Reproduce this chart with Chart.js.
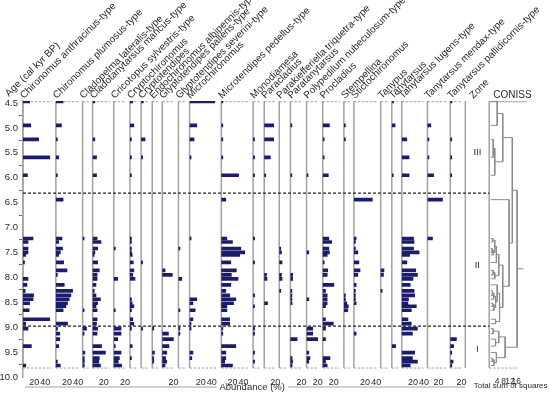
<!DOCTYPE html>
<html>
<head>
<meta charset="utf-8">
<script src="https://cdn.jsdelivr.net/npm/chart.js@4.4.1/dist/chart.umd.min.js"></script>
<style>
  html, body { margin: 0; padding: 0; background: #fff; }
  #wrap { width: 550px; height: 394px; }
</style>
</head>
<body>
<div id="wrap"><canvas id="chart" width="550" height="394"></canvas></div>
<script>
const FONT = "'Liberation Sans', Arial, sans-serif";

// sample ages (cal kyr BP)
const ages = [4.47, 4.95, 5.23, 5.59, 5.95, 6.44, 7.22, 7.29, 7.42, 7.50, 7.55, 7.70, 7.86, 7.95, 8.03, 8.15,
              8.27, 8.36, 8.44, 8.52, 8.58, 8.66, 8.84, 8.93, 9.03, 9.13, 9.24, 9.38, 9.51, 9.62, 9.69, 9.77];

// abundances (%) per taxon, one value per sample
const chironomusAnthracinus = [12,14,28,48,8,0,18,9,9,9,5,2,0,0,9,7,4,19,18,12,0,11,48,5,9,0,0,15,0,0,0,5];
const chironomusPlumosus    = [13,10,1,5,2,13,11,5,12,8,5,14,20,2,0,15,30,27,24,21,18,13,0,21,3,7,7,5,0,0,2,8];
const cladopelmaLateralis   = [0,0,0,0,0,0,2,0,0,0,0,0,0,0,0,0,0,0,0,0,0,2,0,0,7,2,0,0,4,3,3,3];
const cladotanytarsusMancus = [4,0,4,7,7,0,8,15,9,4,2,9,12,8,8,6,3,6,14,9,6,8,8,7,9,8,0,16,23,12,11,14];
const cricotopusSylvestris  = [0,0,0,0,0,0,0,0,1,0,0,0,0,0,7,0,0,0,0,0,0,1,0,0,13,13,7,1,13,10,8,14];
const cryptochironomus      = [5,7,1,1,1,0,2,2,2,2,4,6,7,5,9,0,0,0,1,4,7,1,5,7,1,0,0,4,0,1,0,0];
const cryptotendipes        = [4,0,7,2,0,0,0,0,0,0,0,2,0,0,0,0,0,0,0,0,0,0,0,0,1,0,0,0,0,0,0,0];
const endochironomusAlbip   = [0,0,0,0,0,0,0,0,0,0,0,0,0,0,0,0,0,0,0,0,0,0,0,0,1,0,0,0,4,1,1,0];
const glyptotendipesPallens = [0,0,0,0,0,0,0,0,0,0,0,0,5,18,0,0,0,0,0,0,0,0,0,0,0,11,20,12,8,6,8,5];
const glyptotendipesSeverini= [0,0,0,0,0,0,0,0,1,0,0,0,0,0,6,0,0,0,0,0,0,1,0,0,1,2,0,0,0,0,0,0];
const microchironomus       = [45,13,8,2,0,0,1,0,0,0,0,0,0,0,0,0,0,0,13,6,0,10,6,1,1,0,0,0,6,4,0,0];
const microtendipesPedellus = [2,1,1,1,31,8,10,20,35,42,33,17,27,18,30,17,8,15,26,22,10,10,15,15,2,1,0,26,8,8,6,20];
const monodiamesa           = [0,0,1,1,1,0,1,0,0,0,0,1,0,0,0,0,0,1,0,0,1,0,0,0,1,1,0,0,1,0,1,0];
const paracladius           = [0,17,17,11,1,0,0,0,0,0,0,0,0,4,5,0,0,0,0,6,0,0,0,0,0,0,0,0,0,0,0,0];
const parakiefferiella      = [0,0,0,0,0,0,0,0,1,4,0,5,0,4,5,0,2,0,0,0,0,0,0,0,0,0,0,0,0,0,0,0];
const paratanytarsus        = [0,1,0,0,1,0,0,0,0,0,0,0,0,4,4,0,2,2,2,3,0,0,0,0,0,0,12,0,0,3,4,3];
const polypedilum           = [0,0,0,0,1,0,0,0,0,4,0,0,0,0,0,0,0,0,4,0,0,0,0,0,11,11,20,0,4,6,4,0];
const procladius            = [0,12,1,1,10,0,11,16,11,12,8,1,9,8,0,20,5,8,8,8,5,0,5,19,5,0,5,0,0,13,5,8];
const stempellina           = [0,1,1,0,0,0,0,0,0,0,0,0,0,0,0,0,0,1,1,5,8,7,0,0,0,0,0,0,0,0,0,0];
const stictochironomus      = [0,0,0,0,0,33,4,2,1,7,0,9,11,7,0,4,1,1,1,4,0,0,0,0,0,4,0,0,0,0,0,0];
const tanypus               = [0,0,0,0,0,0,0,0,0,0,0,0,6,5,0,0,1,0,0,0,0,0,0,0,0,0,0,0,0,0,0,0];
const tanytarsus            = [3,6,0,0,1,0,0,0,0,0,0,0,0,0,0,0,0,0,0,0,0,0,0,0,0,0,0,7,0,0,0,0];
const tanytarsusLugens      = [0,0,9,13,13,0,21,22,21,31,14,9,25,28,20,15,22,23,12,11,26,17,11,17,28,19,0,0,23,19,28,15];
const tanytarsusMendax      = [0,6,1,1,11,27,9,0,0,0,0,0,0,0,0,0,0,0,0,0,0,0,0,0,0,0,0,0,0,0,0,0];
const tanytarsusPallidic    = [3,0,1,1,1,0,0,0,0,0,0,0,0,0,0,0,0,0,0,0,0,0,0,0,0,0,11,6,1,0,5,1];

const taxa = [
  'Chironomus anthracinus-type', 'Chironomus plumosus-type', 'Cladopelma lateralis-type',
  'Cladotanytarsus mancus-type', 'Cricotopus sylvestris-type', 'Cryptochironomus', 'Cryptotendipes',
  'Endochironomus albipennis-type', 'Glyptotendipes pallens-type', 'Glyptotendipes severini-type',
  'Microchironomus', 'Microtendipes pedellus-type', 'Monodiamesa', 'Paracladius',
  'Parakiefferiella triquetra-type', 'Paratanytarsus', 'Polypedilum nubeculosum-type', 'Procladius',
  'Stempellina', 'Stictochironomus', 'Tanypus', 'Tanytarsus', 'Tanytarsus lugens-type',
  'Tanytarsus mendax-type', 'Tanytarsus pallidicornis-type'
];
const values = [
  chironomusAnthracinus, chironomusPlumosus, cladopelmaLateralis, cladotanytarsusMancus,
  cricotopusSylvestris, cryptochironomus, cryptotendipes, endochironomusAlbip, glyptotendipesPallens,
  glyptotendipesSeverini, microchironomus, microtendipesPedellus, monodiamesa, paracladius,
  parakiefferiella, paratanytarsus, polypedilum, procladius, stempellina, stictochironomus,
  tanypus, tanytarsus, tanytarsusLugens, tanytarsusMendax, tanytarsusPallidic
];
// axis range of each panel (%), and its tick labels
const axisMax = [59,48,18,38,29,20,20,18,29,20,57,57,20,27,20,29,29,38,18,48,20,18,46,41,27];
const tickLabels = [[20,40],[20,40],[],[20],[20],[],[],[],[20],[],[20,40],[20,40],[],[20],[],[20],[20],[20],[],[20,40],[],[],[20,40],[20],[20]];
const ageTicks = [4.5,5.0,5.5,6.0,6.5,7.0,7.5,8.0,8.5,9.0,9.5,10.0];

// zones
const zoneNames = ['III', 'II', 'I'];
const zoneMidAges = [5.5, 7.75, 9.45];
const zoneBounds = [6.31, 8.98];

// CONISS linkage: node ids >= ages.length refer to earlier merges
const mergeA = [2,32,0,34,8,36,6,38,39,12,41,40,16,44,19,46,45,15,22,49,43,5,35,24,26,55,29,58,28,57,54];
const mergeB = [3,4,1,33,9,10,7,37,11,13,14,42,17,18,20,21,47,48,23,50,51,52,53,25,27,56,30,31,59,60,61];
const mergeHeight = [1.5,2.5,4,7.5,0.8,1.5,1.2,2.5,3.5,1.5,2.5,5,1,1.8,1.2,2,3,4,3,5.5,7.5,11.5,13.5,1.5,3,5,1,2,3.5,9,16.5];
const conissTicks = [4, 8, 12, 16];

const PX_PER_PCT = 0.56;
const TOP_AGE = 4.46, BASE_AGE = 9.82;
const BAR = '#1b1c6c', GREY = '#a2a2a2', TXT = '#2a2a2a';

function conissPoints() {
  const pos = ages.map(a => ({ x: 0, y: a }));
  const pts = [];
  mergeA.forEach((a, k) => {
    const pa = pos[a], pb = pos[mergeB[k]], h = mergeHeight[k];
    pts.push({ x: pa.x, y: pa.y }, { x: h, y: pa.y }, { x: h, y: pb.y }, { x: pb.x, y: pb.y }, { x: null, y: pb.y });
    pos.push({ x: h, y: (pa.y + pb.y) / 2 });
  });
  const root = pos[pos.length - 1];
  pts.push({ x: root.x, y: root.y }, { x: root.x + 4, y: root.y });
  return pts;
}

const tickFont = { family: FONT, size: 9 };

const scales = {
  y: {
    type: 'linear', position: 'left', reverse: true, min: TOP_AGE, max: 10.0, offset: false,
    afterBuildTicks: ax => { ax.ticks = ageTicks.map(v => ({ value: v })); },
    afterFit: ax => { ax.width = 23; },
    ticks: { callback: v => v.toFixed(1), font: { family: FONT, size: 9.5 }, color: TXT, padding: 1, autoSkip: false },
    grid: { drawOnChartArea: false, tickLength: 4, color: '#666' },
    border: { color: GREY, width: 1.5 }
  }
};
taxa.forEach((name, i) => {
  scales['x' + i] = {
    type: 'linear', position: 'bottom', stack: 'panels', stackWeight: axisMax[i] * PX_PER_PCT,
    min: 0, max: axisMax[i], offset: false,
    grid: { display: false }, border: { display: false },
    afterBuildTicks: ax => { ax.ticks = tickLabels[i].map(v => ({ value: v })); },
    afterFit: ax => { ax.height = 17; },
    ticks: { display: tickLabels[i].length > 0, autoSkip: false, maxRotation: 0, padding: -8, font: tickFont, color: TXT }
  };
});
scales.xz = {
  type: 'linear', position: 'bottom', stack: 'panels', stackWeight: 24, min: 0, max: 1, offset: false,
  grid: { display: false }, border: { display: false }, ticks: { display: false },
  afterFit: ax => { ax.height = 17; }
};
scales.xd = {
  type: 'linear', position: 'bottom', stack: 'panels', stackWeight: 41, min: -1, max: 24.6, offset: false,
  grid: { display: false }, border: { display: false },
  afterBuildTicks: ax => { ax.ticks = conissTicks.map(v => ({ value: v })); },
  afterFit: ax => { ax.height = 17; },
  ticks: { autoSkip: false, maxRotation: 0, padding: -8, font: { family: FONT, size: 8.5 }, color: TXT }
};

const datasets = taxa.map((name, i) => ({
  type: 'bar', label: name, indexAxis: 'y', xAxisID: 'x' + i, yAxisID: 'y',
  data: ages.map((a, j) => ({ x: values[i][j], y: a })).filter(p => p.x > 0),
  backgroundColor: BAR, barThickness: 3, grouped: false, minBarLength: 1.5
}));
datasets.push({
  type: 'line', label: 'CONISS', xAxisID: 'xd', yAxisID: 'y', indexAxis: 'y',
  data: conissPoints(), borderColor: '#8a8a8a', borderWidth: 1, pointRadius: 0, tension: 0, spanGaps: false
});

// panel frames, zone boundaries and all free text
const decor = {
  id: 'decor',
  beforeDatasetsDraw(chart) {
    const { ctx, scales: s } = chart;
    const yTop = s.y.getPixelForValue(TOP_AGE), yBase = s.y.getPixelForValue(BASE_AGE);
    const yFirst = s.y.getPixelForValue(4.475);
    ctx.save();
    ctx.strokeStyle = GREY;
    ctx.lineWidth = 1.5;
    const lefts = taxa.map((n, i) => s['x' + i].getPixelForValue(0)).concat([s.xz.left, s.xd.left]);
    lefts.forEach(x => { ctx.beginPath(); ctx.moveTo(x, yTop); ctx.lineTo(x, yBase); ctx.stroke(); });
    ctx.lineWidth = 1;
    ctx.setLineDash([2.5, 1.5]);
    taxa.forEach((n, i) => {
      const sc = s['x' + i];
      const x0 = sc.getPixelForValue(0), x1 = sc.right - 4;
      [yFirst, yBase].forEach(y => { ctx.beginPath(); ctx.moveTo(x0, y); ctx.lineTo(x1, y); ctx.stroke(); });
    });
    ctx.beginPath(); ctx.moveTo(s.xd.left, yBase); ctx.lineTo(s.xd.getPixelForValue(17), yBase); ctx.stroke();
    ctx.setLineDash([]);
    ctx.beginPath(); ctx.moveTo(s.xd.left, yFirst); ctx.lineTo(s.xd.getPixelForValue(22.5), yFirst); ctx.stroke();
    // zone boundaries
    ctx.strokeStyle = '#222';
    ctx.lineWidth = 1.2;
    ctx.setLineDash([3, 2]);
    zoneBounds.forEach(a => {
      const y = s.y.getPixelForValue(a);
      ctx.beginPath(); ctx.moveTo(s.x0.left, y); ctx.lineTo(s.xd.left, y); ctx.stroke();
    });
    ctx.restore();
  },
  afterDraw(chart) {
    const { ctx, scales: s } = chart;
    ctx.save();
    ctx.fillStyle = TXT;
    ctx.font = '10px ' + FONT;
    const rot = (text, x, y) => {
      ctx.save(); ctx.translate(x, y); ctx.rotate(-Math.PI / 4); ctx.fillText(text, 0, 0); ctx.restore();
    };
    rot('Age (cal kyr BP)', 9, 97);
    taxa.forEach((name, i) => rot(name, s['x' + i].getPixelForValue(0) + 1, 99));
    rot('Zone', s.xz.left + 8, 99);
    ctx.fillText('CONISS', s.xd.left + 4, 98);
    ctx.textAlign = 'center';
    ctx.textBaseline = 'middle';
    ctx.font = '9.5px ' + FONT;
    zoneNames.forEach((z, k) => ctx.fillText(z, s.xz.left + 12, s.y.getPixelForValue(zoneMidAges[k])));
    const yAb = 387;
    const cx = (s.x0.left + s.xz.left) / 2 + 8;
    ctx.fillText('Abundance (%)', cx, yAb);
    const half = ctx.measureText('Abundance (%)').width / 2 + 3;
    ctx.strokeStyle = GREY;
    ctx.lineWidth = 1;
    ctx.beginPath();
    ctx.moveTo(s.x0.left + 2, yAb); ctx.lineTo(cx - half, yAb);
    ctx.moveTo(cx + half, yAb); ctx.lineTo(s.xz.left, yAb);
    ctx.stroke();
    ctx.font = '8px ' + FONT;
    ctx.fillText('Total sum of squares', (s.xd.left + s.xd.right) / 2 + 1, 386);
    ctx.restore();
  }
};

new Chart(document.getElementById('chart'), {
  type: 'bar',
  data: { datasets },
  options: {
    responsive: false, animation: false, devicePixelRatio: 1, indexAxis: 'y',
    layout: { padding: { top: 101, right: 20, bottom: 0, left: 0 } },
    plugins: { legend: { display: false }, tooltip: { enabled: false } },
    scales
  },
  plugins: [decor]
});
</script>
</body>
</html>
